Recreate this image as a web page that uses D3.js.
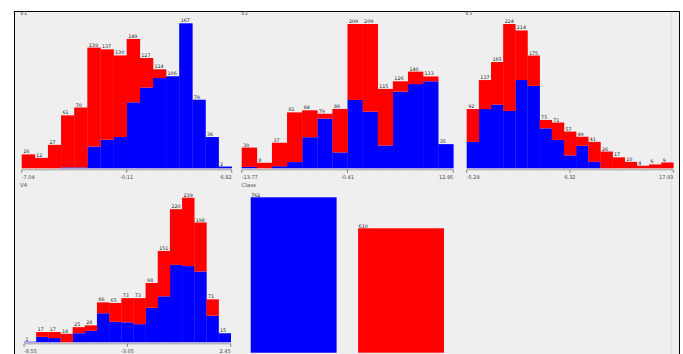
<!DOCTYPE html>
<html>
<head>
<meta charset="utf-8">
<script src="https://cdn.jsdelivr.net/npm/d3@7/dist/d3.min.js"></script>
<style>
  html, body { margin: 0; padding: 0; background: #fff; }
  svg { display: block; }
  text { font-family: "DejaVu Sans", sans-serif; }
</style>
</head>
<body>
<div id="chart"></div>
<script>
// counts per bin, class 1 (blue) stacked under class 2 (red)
const v1Blue = [0, 0, 0, 1, 1, 25, 33, 36, 76, 93, 104, 106, 167, 79, 36, 2];
const v1Red = [16, 12, 27, 60, 69, 114, 104, 94, 73, 34, 10, 0, 0, 0, 0, 0];
const v1Ticks = ['-7.04', '-0.11', '6.82'];

const v2Blue = [2, 0, 3, 9, 45, 72, 23, 99, 82, 33, 111, 122, 126, 35];
const v2Red = [28, 8, 34, 72, 39, 7, 63, 110, 127, 82, 15, 18, 7, 0];
const v2Ticks = ['-13.77', '-0.41', '12.95'];

const v3Blue = [41, 92, 99, 89, 137, 128, 62, 44, 20, 35, 10, 0, 0, 0, 0, 0, 0];
const v3Red = [51, 45, 66, 135, 77, 47, 13, 27, 37, 14, 31, 26, 17, 10, 4, 6, 9];
const v3Ticks = ['-5.29', '6.32', '17.93'];

const v4Blue = [1, 9, 7, 0, 15, 19, 48, 34, 33, 30, 57, 76, 128, 126, 117, 44, 15];
const v4Red = [0, 8, 10, 14, 10, 9, 18, 31, 40, 43, 41, 75, 92, 113, 81, 27, 0];
const v4Ticks = ['-8.55', '-3.05', '2.45'];

const classNames = ['1', '2'];
const classCounts = [762, 610];

const BLUE = '#0000ff', RED = '#ff0000';

const W = 683, H = 354;
const svg = d3.select('#chart').append('svg').attr('width', W).attr('height', H);

// frame
svg.append('rect').attr('x', 14.5).attr('y', 11.5).attr('width', 665).attr('height', 350)
  .attr('fill', '#efefef').attr('stroke', '#000').attr('stroke-width', 1);
svg.append('line').attr('x1', 671.5).attr('x2', 671.5).attr('y1', 12).attr('y2', H)
  .attr('stroke', '#e2e2e6');

const panels = [
  { name: 'V1', blue: v1Blue, red: v1Red, ticks: v1Ticks, x0: 21.7, x1: 231.7, base: 168.3, top: 23.3, tx: 20, ty: 15 },
  { name: 'V2', blue: v2Blue, red: v2Red, ticks: v2Ticks, x0: 241.7, x1: 453.3, base: 168.3, top: 24, tx: 241, ty: 15 },
  { name: 'V3', blue: v3Blue, red: v3Red, ticks: v3Ticks, x0: 466.7, x1: 673.3, base: 168.3, top: 24, tx: 465, ty: 15 },
  { name: 'V4', blue: v4Blue, red: v4Red, ticks: v4Ticks, x0: 24, x1: 230.7, base: 342.3, top: 197.7, tx: 20, ty: 187 }
];

panels.forEach(p => {
  const rows = p.blue.map((b, i) => ({ bin: i, blue: b, red: p.red[i] }));
  const series = d3.stack().keys(['blue', 'red'])(rows);
  const totals = rows.map(r => r.blue + r.red);

  const x = d3.scaleBand().domain(d3.range(rows.length)).range([p.x0, p.x1]).padding(0);
  const y = d3.scaleLinear().domain([0, d3.max(totals)]).range([p.base, p.top]);

  const g = svg.append('g');

  g.append('text').attr('x', p.tx).attr('y', p.ty).attr('font-size', 5.5).attr('fill', '#555').text(p.name);

  g.selectAll('g.layer').data(series).join('g')
    .attr('class', 'layer')
    .attr('fill', d => d.key === 'blue' ? BLUE : RED)
    .selectAll('rect').data(d => d).join('rect')
    .attr('x', (d, i) => x(i))
    .attr('width', x.bandwidth() + 0.3)
    .attr('y', d => y(d[1]))
    .attr('height', d => y(d[0]) - y(d[1]));

  g.selectAll('text.count').data(totals).join('text')
    .attr('class', 'count')
    .attr('x', (d, i) => x(i) + 1.5)
    .attr('y', d => y(d) - 1)
    .attr('font-size', 4.8).attr('fill', '#222')
    .text(d => d);

  // axis with three ticks: min, middle, max
  const axisY = p.base + 1.5;
  const tickX = [p.x0, (p.x0 + p.x1) / 2, p.x1];
  g.append('line').attr('x1', p.x0).attr('x2', p.x1).attr('y1', axisY).attr('y2', axisY)
    .attr('stroke', '#888').attr('stroke-width', 0.8);
  g.selectAll('line.tick').data(tickX).join('line')
    .attr('class', 'tick')
    .attr('x1', d => d).attr('x2', d => d).attr('y1', axisY).attr('y2', axisY + 3)
    .attr('stroke', '#666').attr('stroke-width', 0.8);
  g.selectAll('text.tick').data(p.ticks).join('text')
    .attr('class', 'tick')
    .attr('x', (d, i) => tickX[i])
    .attr('y', axisY + 9)
    .attr('text-anchor', (d, i) => ['start', 'middle', 'end'][i])
    .attr('font-size', 5).attr('fill', '#444')
    .text(d => d);
});

// class panel
const cg = svg.append('g');
cg.append('text').attr('x', 241.5).attr('y', 187).attr('font-size', 5.5).attr('fill', '#555').text('Class');
const cx = d3.scaleBand().domain(classNames).range([250.7, 444]).paddingInner(0.2).paddingOuter(0);
const cy = d3.scaleLinear().domain([0, d3.max(classCounts)]).range([352.7, 197.3]);
cg.selectAll('rect').data(classCounts).join('rect')
  .attr('x', (d, i) => cx(classNames[i]))
  .attr('width', cx.bandwidth())
  .attr('y', d => cy(d))
  .attr('height', d => cy(0) - cy(d))
  .attr('fill', (d, i) => i === 0 ? BLUE : RED);
cg.selectAll('text.count').data(classCounts).join('text')
  .attr('class', 'count')
  .attr('x', (d, i) => cx(classNames[i]) + 0.5)
  .attr('y', d => cy(d) - 0.5)
  .attr('font-size', 4.8).attr('fill', '#222')
  .text(d => d);
</script>
</body>
</html>
